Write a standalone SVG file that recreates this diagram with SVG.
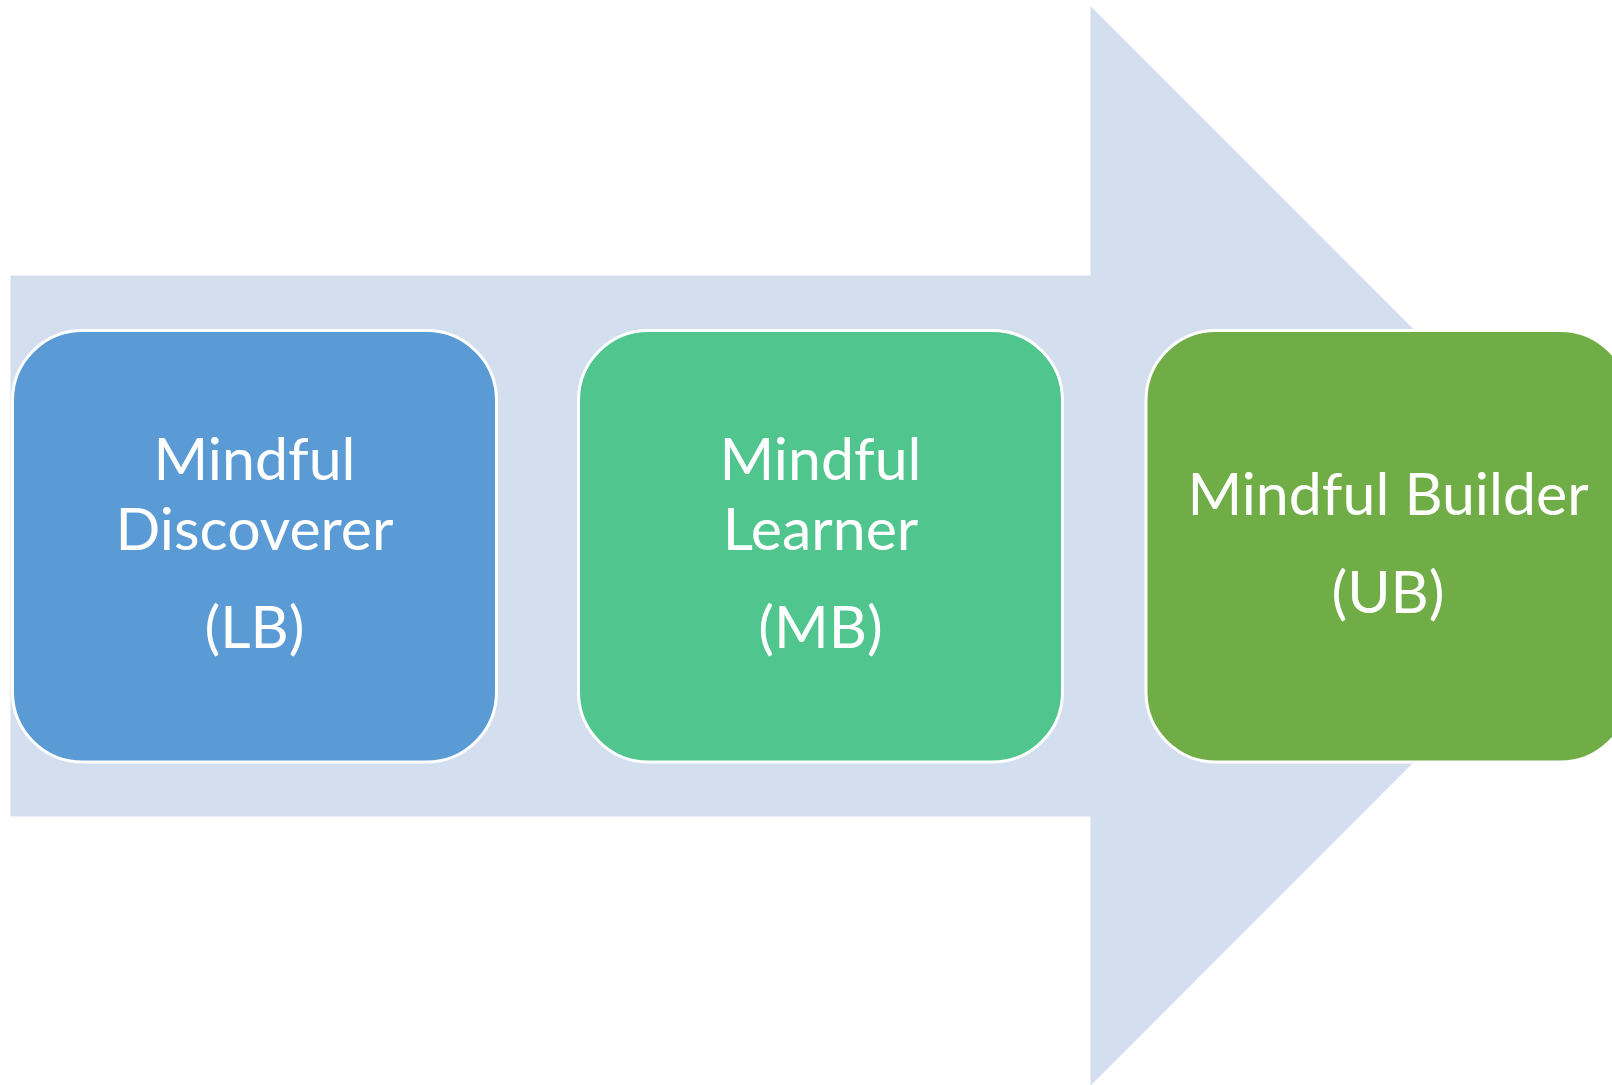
<svg xmlns="http://www.w3.org/2000/svg" width="1612" height="1085" viewBox="0 0 1612 1085">
  <style>
    .box { stroke: #ffffff; stroke-width: 3; }
    .lbl { font-family: "Lato", "Liberation Sans", sans-serif; font-size: 59px; fill: #ffffff; text-anchor: middle; }
  </style>
  <rect x="0" y="0" width="1612" height="1085" fill="#ffffff"/>
  <g id="connectors">
    <path id="big-arrow" d="M10.5 275.5 H1090.5 V6 L1630 545.8 L1090.5 1085.6 V816.5 H10.5 Z" fill="#d3deef"/>
  </g>
  <g id="node-lb">
    <rect class="box" x="12.5" y="330.5" width="484" height="431.5" rx="70" ry="70" fill="#5b9bd5"/>
    <text class="lbl" x="254.5" y="480">Mindful</text>
    <text class="lbl" x="254.5" y="550">Discoverer</text>
    <text class="lbl" x="254.5" y="648">(LB)</text>
  </g>
  <g id="node-mb">
    <rect class="box" x="578.5" y="330.5" width="484" height="431.5" rx="70" ry="70" fill="#50c58e"/>
    <text class="lbl" x="820.5" y="480">Mindful</text>
    <text class="lbl" x="820.5" y="550">Learner</text>
    <text class="lbl" x="820.5" y="648">(MB)</text>
  </g>
  <g id="node-ub">
    <rect class="box" x="1146" y="330.5" width="484" height="431.5" rx="70" ry="70" fill="#70ad47"/>
    <text class="lbl" x="1388" y="515">Mindful Builder</text>
    <text class="lbl" x="1388" y="613">(UB)</text>
  </g>
</svg>
